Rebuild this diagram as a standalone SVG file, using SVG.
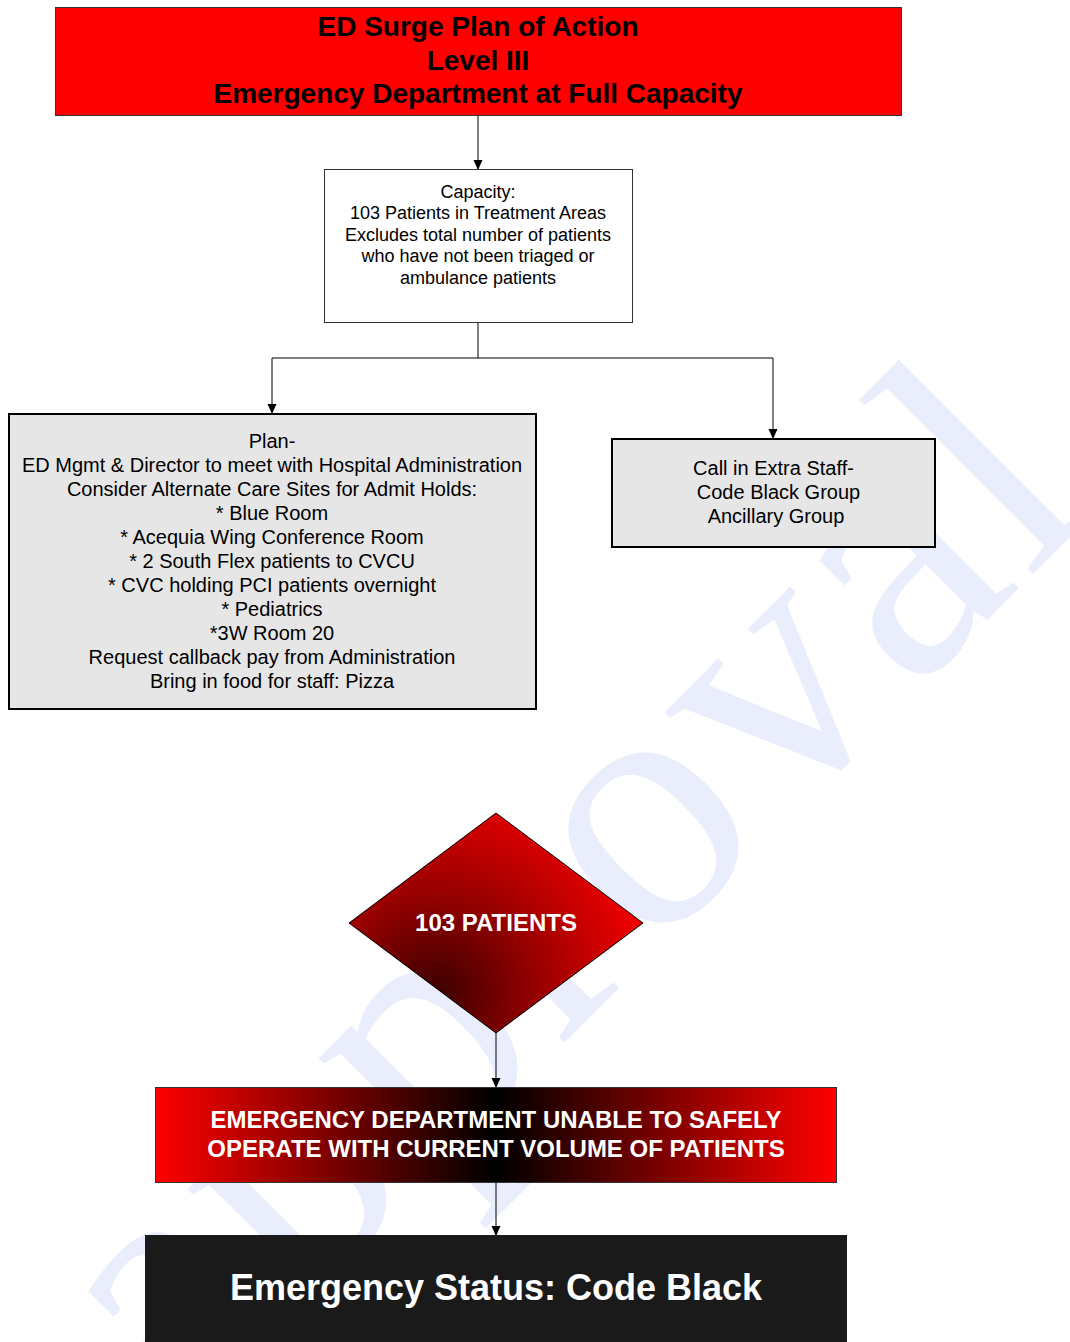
<svg xmlns="http://www.w3.org/2000/svg" width="1070" height="1342" viewBox="0 0 1070 1342">
<defs>
<style>
.t{font-family:"Liberation Sans",Arial,sans-serif;text-anchor:middle}
.b{font-weight:bold}
.n{font-size:20px;fill:#000}
.c{font-size:18px;fill:#000}
.w{fill:#fff}
.ln{stroke:#000;stroke-width:1;fill:none}
.gray{fill:#e6e6e6;stroke:#000;stroke-width:2}
</style>
<marker id="ah" markerWidth="10" markerHeight="10" refX="9" refY="5" orient="auto" markerUnits="userSpaceOnUse">
<path d="M0,0.5 L10,5 L0,9.5 Z" fill="#000"/>
</marker>
<radialGradient id="dg" gradientUnits="userSpaceOnUse" cx="435" cy="995" r="235">
<stop offset="0" stop-color="#3a0000"/>
<stop offset="0.45" stop-color="#9a0000"/>
<stop offset="1" stop-color="#ff0000"/>
</radialGradient>
<linearGradient id="rg" gradientUnits="userSpaceOnUse" x1="155" y1="0" x2="836" y2="0">
<stop offset="0" stop-color="#ff0000"/>
<stop offset="0.5" stop-color="#000000"/>
<stop offset="1" stop-color="#ff0000"/>
</linearGradient>
</defs>
<rect x="0" y="0" width="1070" height="1342" fill="#fff"/>
<text transform="translate(180,1427) rotate(-45)" font-family="'Liberation Serif','Times New Roman',serif" font-size="355" letter-spacing="8" fill="#e9edfc">approval</text>

<g id="connectors">
<line class="ln" x1="478" y1="115" x2="478" y2="169" marker-end="url(#ah)"/>
<polyline class="ln" points="478,322 478,358 272,358 272,413" marker-end="url(#ah)"/>
<polyline class="ln" points="478,358 773,358 773,438" marker-end="url(#ah)"/>
<line class="ln" x1="496" y1="1033" x2="496" y2="1087" marker-end="url(#ah)"/>
<line class="ln" x1="496" y1="1182" x2="496" y2="1235" marker-end="url(#ah)"/>
</g>

<g id="title">
<rect x="55.5" y="7.5" width="846" height="108" fill="#ff0000" stroke="#333" stroke-width="1"/>
<text class="t b" font-size="28" x="478" y="36">ED Surge Plan of Action</text>
<text class="t b" font-size="28" x="478" y="70">Level III</text>
<text class="t b" font-size="28" x="478" y="103">Emergency Department at Full Capacity</text>
</g>

<g id="capacity">
<rect x="324.5" y="169.5" width="308" height="153" fill="#fff" stroke="#333" stroke-width="1"/>
<text class="t c" x="478" y="197.5">Capacity:</text>
<text class="t c" x="478" y="219">103 Patients in Treatment Areas</text>
<text class="t c" x="478" y="240.5">Excludes total number of patients</text>
<text class="t c" x="478" y="262">who have not been triaged or</text>
<text class="t c" x="478" y="284">ambulance patients</text>
</g>

<g id="plan">
<rect class="gray" x="9" y="414" width="527" height="295"/>
<text class="t n" x="272" y="448">Plan-</text>
<text class="t n" x="272" y="472">ED Mgmt &amp; Director to meet with Hospital Administration</text>
<text class="t n" x="272" y="496">Consider Alternate Care Sites for Admit Holds:</text>
<text class="t n" x="272" y="520">* Blue Room</text>
<text class="t n" x="272" y="544">* Acequia Wing Conference Room</text>
<text class="t n" x="272" y="568">* 2 South Flex patients to CVCU</text>
<text class="t n" x="272" y="592">* CVC holding PCI patients overnight</text>
<text class="t n" x="272" y="616">* Pediatrics</text>
<text class="t n" x="272" y="640">*3W Room 20</text>
<text class="t n" x="272" y="664">Request callback pay from Administration</text>
<text class="t n" x="272" y="688">Bring in food for staff: Pizza</text>
</g>

<g id="staff">
<rect class="gray" x="612" y="439" width="323" height="108"/>
<text class="t n" x="773.5" y="475">Call in Extra Staff-</text>
<text class="t n" x="778.5" y="499">Code Black Group</text>
<text class="t n" x="776" y="523">Ancillary Group</text>
</g>

<g id="decision">
<polygon points="496,813 643,923 496,1033 349,923" fill="url(#dg)" stroke="#000" stroke-width="1"/>
<text class="t b w" font-size="24" x="496" y="931">103 PATIENTS</text>
</g>

<g id="unable">
<rect x="155.5" y="1087.5" width="681" height="95" fill="url(#rg)" stroke="#333" stroke-width="1"/>
<text class="t b w" font-size="24" x="496" y="1128">EMERGENCY DEPARTMENT UNABLE TO SAFELY</text>
<text class="t b w" font-size="24" x="496" y="1157">OPERATE WITH CURRENT VOLUME OF PATIENTS</text>
</g>

<g id="codeblack">
<rect x="145" y="1235" width="702" height="120" fill="#1a1a1a"/>
<text class="t b w" font-size="36" x="496" y="1300">Emergency Status: Code Black</text>
</g>
</svg>
